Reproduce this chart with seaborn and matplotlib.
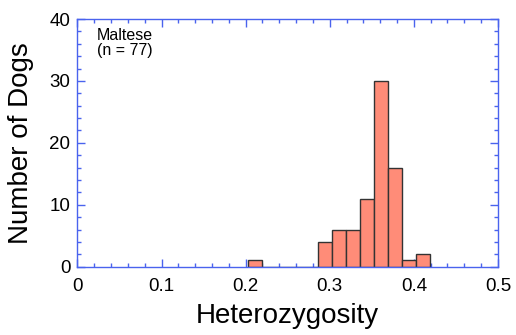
import numpy as np
import pandas as pd
import matplotlib
matplotlib.use("Agg")
import matplotlib.pyplot as plt
from matplotlib.ticker import MultipleLocator
import seaborn as sns

# Histogram bins (heterozygosity) and number of dogs per bin
bin_start = 0.2023
bin_width = 1 / 60
counts = [1, 0, 0, 0, 0, 4, 6, 6, 11, 30, 16, 1, 2]
breed = "Maltese"
n_dogs = 77

x_ticks = [0, 0.1, 0.2, 0.3, 0.4, 0.5]
x_tick_labels = ["0", "0.1", "0.2", "0.3", "0.4", "0.5"]
y_ticks = [0, 10, 20, 30, 40]

edges = bin_start + bin_width * np.arange(len(counts) + 1)
centers = (edges[:-1] + edges[1:]) / 2
df = pd.DataFrame({"het": centers, "n": counts})

sns.set_style("white")
plt.rcParams["font.family"] = ["Liberation Sans", "DejaVu Sans"]
plt.rcParams["text.color"] = "black"
plt.rcParams["axes.labelcolor"] = "black"

axis_blue = "#4a63ee"
fig = plt.figure(figsize=(5.16, 3.35), dpi=100)
ax = fig.add_axes([0.150, 0.204, 0.815, 0.739])

sns.histplot(data=df, x="het", weights="n", binwidth=bin_width,
             binrange=(float(edges[0]), float(edges[-1])), ax=ax,
             color="#ff8c78", edgecolor="#333333", linewidth=1.0, alpha=1.0)

ax.set_xlim(0, 0.5)
ax.set_ylim(0, 40)
ax.set_xticks(x_ticks)
ax.set_xticklabels(x_tick_labels)
ax.set_yticks(y_ticks)
ax.xaxis.set_minor_locator(MultipleLocator(0.02))
ax.yaxis.set_minor_locator(MultipleLocator(2))

for s in ax.spines.values():
    s.set_visible(True)
    s.set_color(axis_blue)
    s.set_linewidth(1.0)

ax.tick_params(which="both", direction="in", top=True, right=True,
               bottom=True, left=True,
               color=axis_blue, labelcolor="black", labelsize=13.5)
ax.tick_params(axis="x", which="both", pad=8)
ax.tick_params(axis="y", which="both", pad=5)
ax.tick_params(which="major", length=6, width=1)
ax.tick_params(which="minor", length=3, width=1)

ax.set_xlabel("Heterozygosity", fontsize=20, labelpad=6, color="black")
ax.set_ylabel("Number of Dogs", fontsize=20, labelpad=11, color="black")

ax.text(0.046, 0.965, f"{breed}\n(n = {n_dogs})", transform=ax.transAxes,
        ha="left", va="top", fontsize=11.5, linespacing=1.0, color="black")

fig.savefig("out.png", dpi=100)
